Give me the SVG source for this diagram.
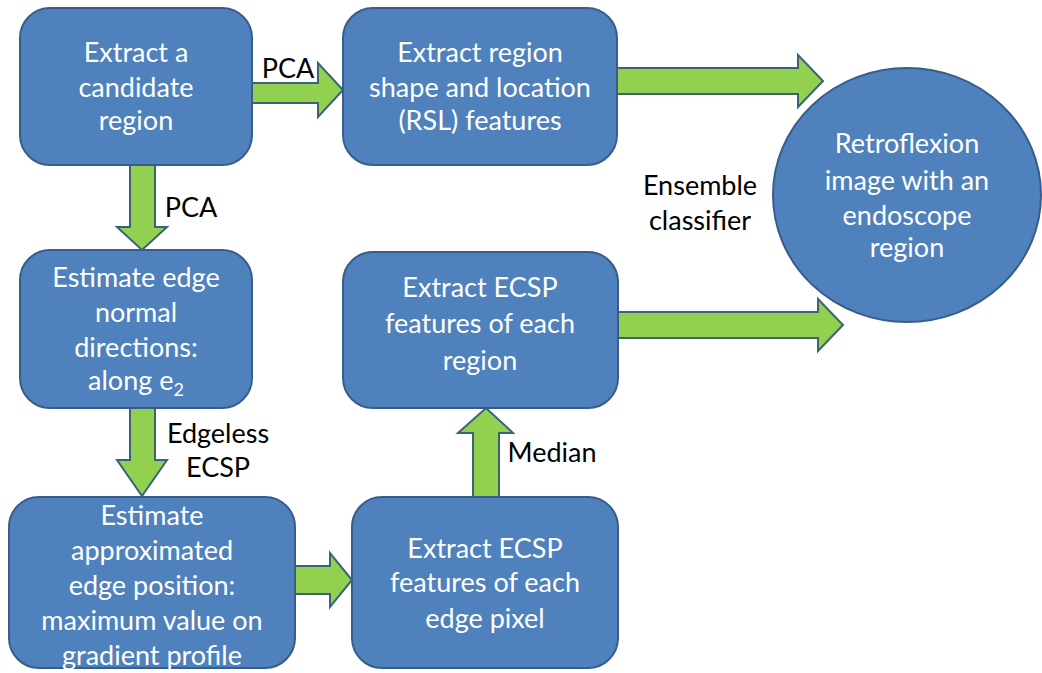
<svg xmlns="http://www.w3.org/2000/svg" width="1042" height="673" viewBox="0 0 1042 673">
<style>
.box{fill:#4F81BD;stroke:#385D8A;stroke-width:2}
.arr{fill:#92D050;stroke:#3A6378;stroke-width:2;stroke-linejoin:miter}
.bt{font-family:Lato,"Liberation Sans",sans-serif;font-size:27px;fill:#FFFFFF;text-anchor:middle}
.lb{font-family:Lato,"Liberation Sans",sans-serif;font-size:27px;fill:#000000;text-anchor:middle}
</style>
<rect width="1042" height="673" fill="#FFFFFF"/>
<g id="connectors">
<polygon class="arr" points="252,83 318,83 318,63 343,90 318,117 318,103 252,103"/>
<polygon class="arr" points="617,68 798,68 798,55 823,81 798,107 798,94 617,94"/>
<polygon class="arr" points="130,165 155,165 155,227 167,227 142,250 117,227 130,227"/>
<polygon class="arr" points="130,408 155,408 155,460 167,460 142,496 117,460 130,460"/>
<polygon class="arr" points="295,566 330,566 330,553 352,580 330,607 330,594 295,594"/>
<polygon class="arr" points="473,497 473,433 458,433 486,408 513,433 499,433 499,497"/>
<polygon class="arr" points="617,312 818,312 818,299 843,325 818,351 818,338 617,338"/>
<text class="lb" x="288" y="78">PCA</text>
<text class="lb" x="191" y="217">PCA</text>
<text class="lb" x="218" y="443">Edgeless</text>
<text class="lb" x="218" y="477">ECSP</text>
<text class="lb" x="552" y="462">Median</text>
<text class="lb" x="700" y="195">Ensemble</text>
<text class="lb" x="700" y="230">classifier</text>
</g>
<g id="node-candidate">
<rect class="box" x="20" y="8" width="232" height="157" rx="30"/>
<text class="bt" x="136" y="62">Extract a</text>
<text class="bt" x="136" y="97">candidate</text>
<text class="bt" x="136" y="130">region</text>
</g>
<g id="node-rsl">
<rect class="box" x="343" y="8" width="274" height="157" rx="30"/>
<text class="bt" x="480" y="62">Extract region</text>
<text class="bt" x="480" y="97">shape and location</text>
<text class="bt" x="480" y="130">(RSL) features</text>
</g>
<g id="node-normal">
<rect class="box" x="20" y="250" width="232" height="158" rx="30"/>
<text class="bt" x="136" y="287">Estimate edge</text>
<text class="bt" x="136" y="322">normal</text>
<text class="bt" x="136" y="357">directions:</text>
<text class="bt" x="136" y="390">along e<tspan font-size="18" dy="6">2</tspan></text>
</g>
<g id="node-region-ecsp">
<rect class="box" x="343" y="252" width="275" height="156" rx="30"/>
<text class="bt" x="480" y="297">Extract ECSP</text>
<text class="bt" x="480" y="333">features of each</text>
<text class="bt" x="480" y="370">region</text>
</g>
<g id="node-edge-position">
<rect class="box" x="9" y="497" width="286" height="171" rx="30"/>
<text class="bt" x="152" y="525">Estimate</text>
<text class="bt" x="152" y="560">approximated</text>
<text class="bt" x="152" y="595">edge position:</text>
<text class="bt" x="152" y="630">maximum value on</text>
<text class="bt" x="152" y="665">gradient profile</text>
</g>
<g id="node-pixel-ecsp">
<rect class="box" x="352" y="497" width="266" height="171" rx="30"/>
<text class="bt" x="485" y="558">Extract ECSP</text>
<text class="bt" x="485" y="592">features of each</text>
<text class="bt" x="485" y="628">edge pixel</text>
</g>
<g id="node-result">
<ellipse class="box" cx="907" cy="195" rx="134" ry="127"/>
<text class="bt" x="907" y="153">Retroflexion</text>
<text class="bt" x="907" y="190">image with an</text>
<text class="bt" x="907" y="225">endoscope</text>
<text class="bt" x="907" y="257">region</text>
</g>
</svg>
